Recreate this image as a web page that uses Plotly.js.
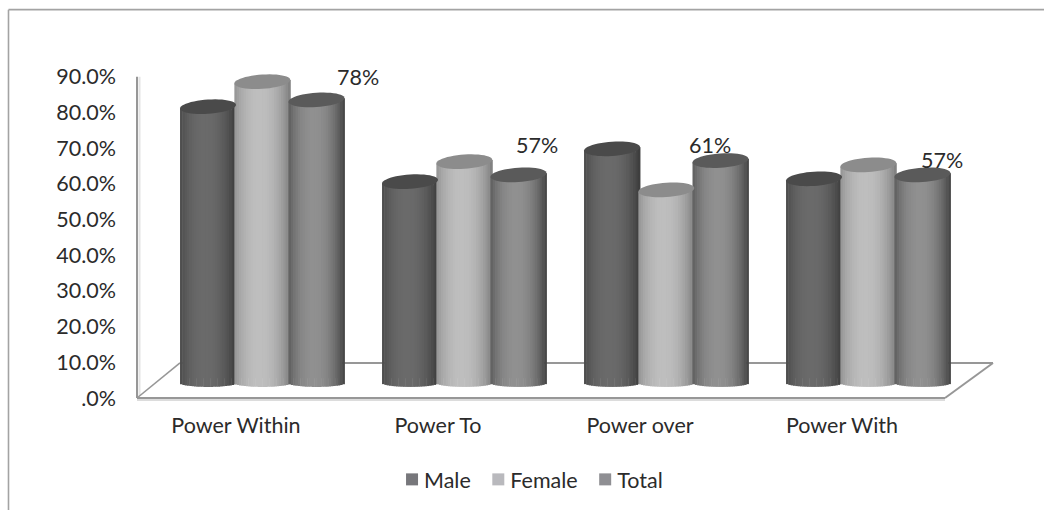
<!DOCTYPE html>
<html><head><meta charset="utf-8">
<script src="https://cdn.plot.ly/plotly-3.0.1.min.js"></script>
<style>html,body{margin:0;padding:0;background:#fff}</style></head>
<body><div id="chart" style="width:1044px;height:510px"></div>
<script>
const categories = ["Power Within","Power To","Power over","Power With"];
const male   = [76.1, 55.1, 64.3, 55.9];
const female = [83.1, 60.7, 52.8, 59.8];
const total  = [78, 57, 61, 57];
const totalLabels = ["78%","57%","61%","57%"];
const tickValues = [0,10,20,30,40,50,60,70,80,90];
const tickLabels = [".0%","10.0%","20.0%","30.0%","40.0%","50.0%","60.0%","70.0%","80.0%","90.0%"];

// styling / 3D look
const FONT = "Lato, sans-serif", INK = "#2b2b2b", FS = 21.5;
const DEPTH_BASE = 5.5;        // how far the cylinder sits up the floor
const series = [
  {name:"Male",   vals:male,   off:-0.287, legend:"#77777b", edge:58,  peak:106, top:"#4a4a4a"},
  {name:"Female", vals:female, off:-0.018, legend:"#b9b9bd", edge:125, peak:190, top:"#8c8c8c"},
  {name:"Total",  vals:total,  off: 0.250, legend:"#8f8f93", edge:66,  peak:144, top:"#5a5a5a"}
];
const W = 0.277, STRIPS = 24, EDGE_BASE = 4.2, BOW = 1.1, CAP = 2.0, TILT = 0.5;
const traces = [], shapes = [];
const xs = categories.map((_, i) => i);

series.forEach(s => {
  traces.push({type:"bar", name:s.name, x:xs, y:s.vals.map(v=>v-1), base:DEPTH_BASE, width:W*0.9, offset:s.off+W*0.05,
    marker:{color:s.legend, line:{width:0}}, hoverinfo:"skip", showlegend:true, cliponaxis:false});
  for (let k=0;k<STRIPS;k++){
    const t = (k+0.5)/STRIPS*2-1;
    const p = 1-Math.pow(Math.abs(t+0.1)/1.1,2.2);
    const g = Math.round(s.edge+(s.peak-s.edge)*p);
    const b = EDGE_BASE - BOW*Math.sqrt(1-t*t);
    traces.push({type:"bar", x:xs, y:s.vals.map(v=>v+DEPTH_BASE+TILT*t-b), base:b,
      width:W/STRIPS*1.2, offset:s.off+W*k/STRIPS,
      marker:{color:`rgb(${g},${g},${g})`, line:{width:0}}, hoverinfo:"skip", showlegend:false, cliponaxis:false});
  }
  s.vals.forEach((v,i)=>{
    const cx = i+s.off+W/2, cy = v+DEPTH_BASE; let d = "";
    for (let a=0;a<48;a++){
      const th = a/48*2*Math.PI, c = Math.cos(th);
      d += (a?"L":"M")+(cx+W/2*c).toFixed(4)+","+(cy+CAP*Math.sin(th)+TILT*c).toFixed(3);
    }
    shapes.push({type:"path", xref:"x", yref:"y", layer:"above", path:d+"Z", fillcolor:s.top, line:{width:0}});
  });
});

// floor, walls and frame
const GRAY = "#979797", PW = 863, PH = 356.7;
const px = x => (x-137)/PW, py = y => (398-y)/PH;
const line = (x0,y0,x1,y1,c,w)=>({type:"line",xref:"paper",yref:"paper",x0:px(x0),y0:py(y0),x1:px(x1),y1:py(y1),layer:"below",line:{color:c,width:w}});
shapes.unshift(
  line(8.5,10,1044,10,"#a3a3a3",1.6),
  line(8.5,10,8.5,510,"#a3a3a3",1.6),
  line(137,77,137,398,GRAY,2),
  line(139.5,77,139.5,396,"#e4e4e4",2),
  line(137,398,945,398,GRAY,2),
  line(137,400,945,400,"#dcdcdc",2),
  line(137,398,180,363,GRAY,1.6),
  line(180,363,993,363,GRAY,2),
  line(945,398,993,363,GRAY,2)
);

const labelPos = [[358,77],[537,145],[710,145],[942,160]];
const annotations = totalLabels.map((t,i)=>({
  text:t, xref:"paper", yref:"paper", x:px(labelPos[i][0]), y:py(labelPos[i][1]),
  xanchor:"center", yanchor:"middle", showarrow:false, font:{family:FONT,size:FS,color:INK}
}));

Plotly.newPlot("chart", traces, {
  width:1044, height:510, paper_bgcolor:"#fff", plot_bgcolor:"rgba(0,0,0,0)",
  margin:{l:137,r:44,t:41.3,b:112,pad:0},
  barmode:"overlay", showlegend:true,
  font:{family:FONT,size:FS,color:INK},
  xaxis:{range:[-0.5,-0.5+PW/202], tickmode:"array", tickvals:xs.map(x=>x-0.01), ticktext:categories, showgrid:false, zeroline:false,
    showline:false, ticks:"", ticklabelstandoff:12, tickfont:{family:FONT,size:FS,color:INK}},
  yaxis:{range:[0,100], tickmode:"array", tickvals:tickValues, ticktext:tickLabels, showgrid:false, zeroline:false,
    showline:false, ticks:"", ticklabelstandoff:20, tickfont:{family:FONT,size:FS,color:INK}},
  legend:{orientation:"h", x:0.5168, xanchor:"center", xref:"container", y:0.06, yref:"container", yanchor:"middle",
    font:{family:FONT,size:FS,color:INK}, traceorder:"normal", itemclick:false},
  shapes, annotations
},{displayModeBar:false}).then(()=>{
  document.querySelectorAll(".legendtext").forEach(t=>t.setAttribute("x", (+t.getAttribute("x"))-8));
  document.querySelectorAll(".legend .traces").forEach((g,i)=>{
    const m = /translate\(([-\d.]+)[, ]+([-\d.]+)\)/.exec(g.getAttribute("transform")||"");
    if (m) g.setAttribute("transform", `translate(${+m[1]-5.5*i},${m[2]})`);
  });
});
</script></body></html>
